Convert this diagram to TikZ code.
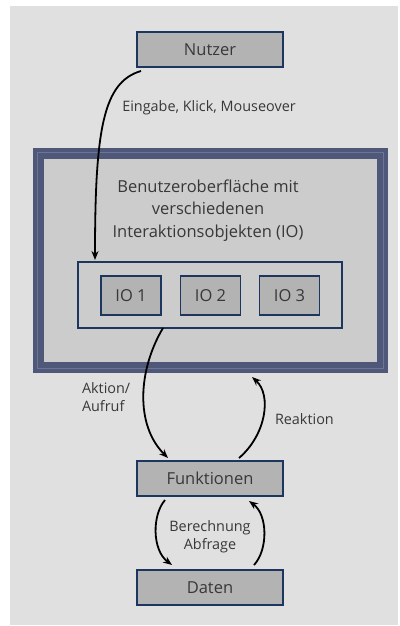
\documentclass[tikz,border=0pt]{standalone}
\usepackage{fontspec}
\setmainfont{Open Sans}
\usetikzlibrary{arrows.meta}
\definecolor{bgray}{HTML}{E0E0E0}
\definecolor{panel}{HTML}{CCCCCC}
\definecolor{boxfill}{HTML}{B3B3B3}
\definecolor{navy}{HTML}{1C3660}
\definecolor{band}{HTML}{4F5878}
\definecolor{bandline}{HTML}{6C7597}
\definecolor{txt}{HTML}{383838}
\tikzset{
  every node/.style={text=txt, font=\fontsize{16.5}{22.5}\selectfont, inner sep=0pt, outer sep=0pt},
  box/.style={draw=navy, line width=1.4pt, fill=boxfill, minimum width=146pt, minimum height=35pt},
  iobx/.style={draw=navy, line width=1.4pt, fill=boxfill, minimum width=60pt, minimum height=39pt},
  lbl/.style={font=\fontsize{14.4}{18}\selectfont},
  flow/.style={line width=1.8pt, black, -{Stealth[length=9pt,width=7pt]}}
}
\begin{document}
\begin{tikzpicture}[x=1pt,y=-1pt]
  \useasboundingbox (0,0) rectangle (399,626);
  % page background
  \fill[bgray] (10,6) rectangle (398,625);

  % user interface frame
  \node[fill=band, minimum width=355pt, minimum height=224.7pt] (ui) at (210.5,260.35) {};
  \draw[bandline, line width=0.9pt]
    ([shift={(4.5pt,-4.5pt)}]ui.north west) rectangle ([shift={(-4.5pt,4.5pt)}]ui.south east);
  \node[fill=panel, minimum width=333.6pt, minimum height=202.7pt] (panel) at (210.5,260.35) {};
  \node[align=center] (uitext) at (208,210.5)
    {Benutzeroberfläche mit\\verschiedenen\\Interaktionsobjekten (IO)};

  % interaction objects
  \node[draw=navy, line width=1.4pt, fill=panel, minimum width=264pt, minimum height=66pt] (iobox) at (210,295) {};
  \node[iobx] (io1) at (131,295.5) {IO 1};
  \node[iobx] (io2) at (210.5,295.5) {IO 2};
  \node[iobx] (io3) at (289.5,295.5) {IO 3};

  % actors and layers
  \node[box] (nutzer) at (210,49.5) {Nutzer};
  \node[box] (funk) at (210,478.5) {Funktionen};
  \node[box] (daten) at (210,587.5) {Daten};

  % labels
  \node[lbl] (lin) at (209,108) {Eingabe, Klick, Mouseover};
  \node[lbl, align=left, anchor=west] (lakt) at (82,397) {Aktion/\\Aufruf};
  \node[lbl, anchor=west] (lreak) at (275,419) {Reaktion};
  \node[lbl, align=center] (lber) at (210,537) {Berechnung\\Abfrage};

  % flows
  \draw[flow] ([shift={(4pt,-4pt)}]nutzer.south west)
    .. controls (103,82) and (95,130) .. ([shift={(17pt,2pt)}]iobox.north west);
  \draw[flow] ([xshift=85pt]iobox.south west)
    .. controls (138,370) and (135,425) .. ([shift={(-42pt,3pt)}]funk.north);
  \draw[flow] ([shift={(29pt,3pt)}]funk.north)
    .. controls (266,435) and (272,395) .. ([shift={(41.5pt,-4.3pt)}]ui.south);
  \draw[flow] ([shift={(-45pt,-4pt)}]funk.south)
    .. controls (152,515) and (152,550) .. ([shift={(-38pt,5pt)}]daten.north);
  \draw[flow] ([shift={(44pt,5pt)}]daten.north)
    .. controls (268,550) and (268,515) .. ([shift={(39pt,-5pt)}]funk.south);
\end{tikzpicture}
\end{document}
